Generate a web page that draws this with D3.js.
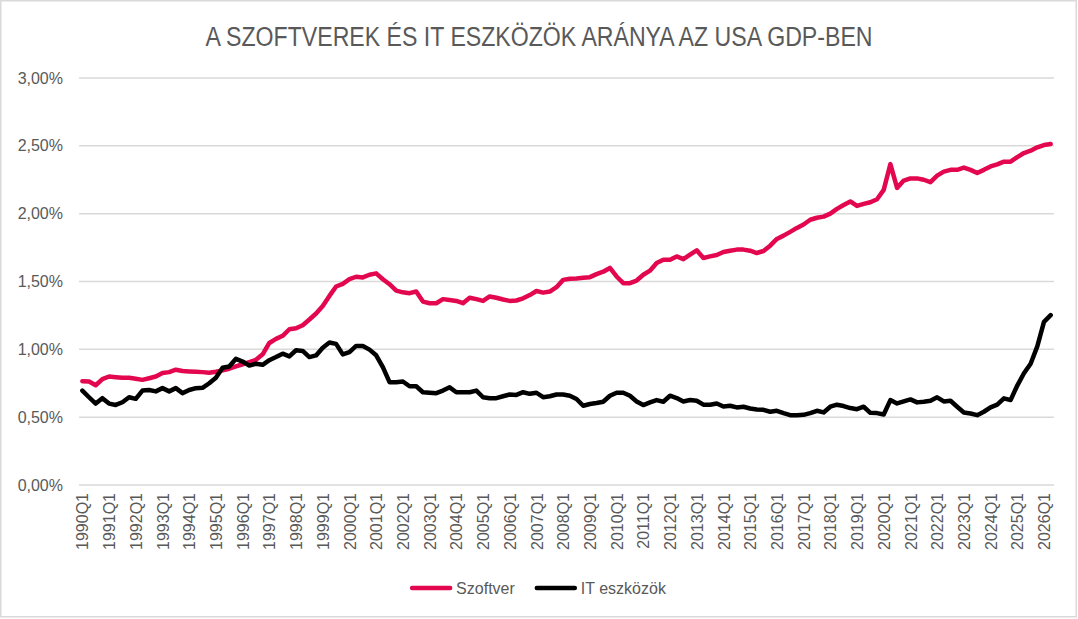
<!DOCTYPE html>
<html>
<head>
<meta charset="utf-8">
<script src="https://cdn.jsdelivr.net/npm/d3@7"></script>
<style>
  body { margin: 0; background: #fff; }
  text { font-family: "Liberation Sans", Arial, sans-serif; fill: #595959; }
</style>
</head>
<body>
<div id="chart"></div>
<script>
// quarters 1990Q1 .. 2026Q2
var firstYear = 1990;
var quarterCount = 146;

// share of GDP, percent
var szoftver = [
  0.765, 0.763, 0.735, 0.780,   // 1990
  0.800, 0.795, 0.790, 0.790,   // 1991
  0.783, 0.775, 0.787, 0.800,   // 1992
  0.825, 0.832, 0.850, 0.840,   // 1993
  0.837, 0.835, 0.832, 0.827,   // 1994
  0.835, 0.845, 0.857, 0.874,   // 1995
  0.890, 0.906, 0.923, 0.963,   // 1996
  1.047, 1.077, 1.100, 1.148,   // 1997
  1.155, 1.178, 1.220, 1.264,   // 1998
  1.320, 1.394, 1.463, 1.483,   // 1999
  1.517, 1.535, 1.530, 1.550,   // 2000
  1.560, 1.517, 1.480, 1.433,   // 2001
  1.420, 1.414, 1.426, 1.352,   // 2002
  1.340, 1.340, 1.370, 1.364,   // 2003
  1.357, 1.340, 1.380, 1.370,   // 2004
  1.357, 1.390, 1.380, 1.367,   // 2005
  1.357, 1.360, 1.376, 1.400,   // 2006
  1.430, 1.418, 1.426, 1.458,   // 2007
  1.512, 1.520, 1.522, 1.527,   // 2008
  1.532, 1.554, 1.572, 1.600,   // 2009
  1.537, 1.488, 1.488, 1.507,   // 2010
  1.550, 1.580, 1.636, 1.660,   // 2011
  1.660, 1.685, 1.665, 1.698,   // 2012
  1.730, 1.673, 1.685, 1.695,   // 2013
  1.717, 1.727, 1.735, 1.735,   // 2014
  1.727, 1.710, 1.725, 1.764,   // 2015
  1.814, 1.838, 1.866, 1.895,   // 2016
  1.920, 1.955, 1.970, 1.978,   // 2017
  2.000, 2.035, 2.064, 2.090,   // 2018
  2.057, 2.072, 2.084, 2.106,   // 2019
  2.175, 2.365, 2.190, 2.244,   // 2020
  2.260, 2.260, 2.250, 2.232,   // 2021
  2.280, 2.310, 2.323, 2.323,   // 2022
  2.340, 2.323, 2.300, 2.323,   // 2023
  2.348, 2.363, 2.383, 2.383,   // 2024
  2.417, 2.447, 2.464, 2.489,   // 2025
  2.506, 2.514                  // 2026
];

var itEszkozok = [
  0.696, 0.647, 0.600, 0.640,   // 1990
  0.600, 0.590, 0.610, 0.647,   // 1991
  0.635, 0.696, 0.700, 0.690,   // 1992
  0.714, 0.690, 0.714, 0.677,   // 1993
  0.700, 0.714, 0.716, 0.750,   // 1994
  0.790, 0.864, 0.874, 0.930,   // 1995
  0.910, 0.880, 0.894, 0.886,   // 1996
  0.920, 0.943, 0.968, 0.948,   // 1997
  0.993, 0.988, 0.943, 0.955,   // 1998
  1.012, 1.050, 1.040, 0.963,   // 1999
  0.980, 1.025, 1.025, 0.998,   // 2000
  0.956, 0.869, 0.758, 0.758,   // 2001
  0.763, 0.728, 0.728, 0.684,   // 2002
  0.680, 0.677, 0.696, 0.720,   // 2003
  0.684, 0.684, 0.684, 0.696,   // 2004
  0.647, 0.640, 0.640, 0.654,   // 2005
  0.667, 0.664, 0.684, 0.672,   // 2006
  0.680, 0.647, 0.654, 0.667,   // 2007
  0.667, 0.658, 0.634, 0.584,   // 2008
  0.597, 0.604, 0.614, 0.658,   // 2009
  0.680, 0.680, 0.658, 0.616,   // 2010
  0.589, 0.609, 0.626, 0.614,   // 2011
  0.658, 0.641, 0.616, 0.626,   // 2012
  0.621, 0.592, 0.592, 0.601,   // 2013
  0.579, 0.584, 0.572, 0.577,   // 2014
  0.564, 0.557, 0.554, 0.540,   // 2015
  0.547, 0.530, 0.515, 0.515,   // 2016
  0.517, 0.530, 0.547, 0.535,   // 2017
  0.577, 0.592, 0.582, 0.567,   // 2018
  0.559, 0.577, 0.532, 0.530,   // 2019
  0.520, 0.626, 0.601, 0.616,   // 2020
  0.631, 0.609, 0.614, 0.621,   // 2021
  0.646, 0.616, 0.621, 0.577,   // 2022
  0.535, 0.527, 0.515, 0.540,   // 2023
  0.572, 0.592, 0.639, 0.626,   // 2024
  0.733, 0.824, 0.894, 1.022,   // 2025
  1.203, 1.252                  // 2026
];

var yTicks = [0, 0.5, 1, 1.5, 2, 2.5, 3];

var seriesNames = ["Szoftver", "IT eszközök"];
var seriesColors = ["#e2074f", "#000000"];

var categories = [];
for (var i = 0; i < quarterCount; i++) {
    categories.push((firstYear + Math.floor(i / 4)) + "Q" + (i % 4 + 1));
}
// every fourth quarter gets a label
var xLabels = categories.filter(function (d, i) { return i % 4 === 0; });

var width = 1078, height = 619;
var plot = { left: 79, right: 1054, top: 78, bottom: 485 };

var svg = d3.select("#chart").append("svg")
        .attr("width", width)
        .attr("height", height);

svg.append("rect")
        .attr("x", 0.75).attr("y", 0.75)
        .attr("width", 1075.5).attr("height", 616)
        .attr("fill", "#fff")
        .attr("stroke", "#d9d9d9")
        .attr("stroke-width", 1.5);

var x = d3.scalePoint()
        .domain(categories)
        .range([plot.left, plot.right])
        .padding(0.5);

var y = d3.scaleLinear()
        .domain([0, 3])
        .range([plot.bottom, plot.top]);

var huFormat = d3.formatLocale({decimal: ",", thousands: " ", grouping: [3], currency: ["", ""]}).format(".2f");

// gridlines
svg.append("g").selectAll("line")
        .data(yTicks)
        .enter().append("line")
        .attr("x1", plot.left).attr("x2", plot.right)
        .attr("y1", function (d) { return y(d); })
        .attr("y2", function (d) { return y(d); })
        .attr("stroke", "#d9d9d9")
        .attr("stroke-width", 1.5);

// y axis labels
var yAxis = d3.axisLeft(y)
        .tickValues(yTicks)
        .tickSize(0)
        .tickPadding(16)
        .tickFormat(function (d) { return huFormat(d) + "%"; });
var gy = svg.append("g")
        .attr("transform", "translate(" + plot.left + ",0)")
        .call(yAxis);
gy.select(".domain").remove();
gy.selectAll("text")
        .style("font-size", "16px")
        .style("font-family", "'Liberation Sans', Arial, sans-serif")
        .attr("fill", "#595959");

// x axis labels
var xAxis = d3.axisBottom(x)
        .tickValues(xLabels)
        .tickSize(0);
var gx = svg.append("g")
        .attr("transform", "translate(0," + plot.bottom + ")")
        .call(xAxis);
gx.select(".domain").remove();
gx.selectAll("text")
        .attr("y", 0)
        .attr("x", -8)
        .attr("dy", "0.35em")
        .attr("transform", "rotate(-90)")
        .style("text-anchor", "end")
        .style("font-size", "16px")
        .style("font-family", "'Liberation Sans', Arial, sans-serif")
        .attr("fill", "#595959");

// lines
var line = d3.line()
        .x(function (d, i) { return x(categories[i]); })
        .y(function (d) { return y(d); });

[szoftver, itEszkozok].forEach(function (values, k) {
    svg.append("path")
            .datum(values)
            .attr("d", line)
            .attr("fill", "none")
            .attr("stroke", seriesColors[k])
            .attr("stroke-width", 4.5)
            .attr("stroke-linejoin", "round")
            .attr("stroke-linecap", "round");
});

// title: tall, condensed lettering squeezed to the original width
svg.append("text")
        .attr("x", width / 2)
        .attr("y", 46)
        .attr("text-anchor", "middle")
        .attr("textLength", 667)
        .attr("lengthAdjust", "spacingAndGlyphs")
        .style("font-family", "'Liberation Sans', Arial, sans-serif")
        .style("font-size", "27px")
        .text("A SZOFTVEREK ÉS IT ESZKÖZÖK ARÁNYA AZ USA GDP-BEN");

// legend
var legend = svg.append("g");
var swatch = 38, gap = 6, between = 22;
var items = seriesNames.map(function (name, k) {
    var g = legend.append("g");
    g.append("line")
            .attr("x1", 0).attr("x2", swatch)
            .attr("y1", 0).attr("y2", 0)
            .attr("stroke", seriesColors[k])
            .attr("stroke-width", 4.5)
            .attr("stroke-linecap", "round");
    var t = g.append("text")
            .attr("x", swatch + gap)
            .attr("dy", "0.35em")
            .style("font-size", "16px")
            .text(name);
    return {g: g, w: swatch + gap + t.node().getComputedTextLength()};
});
var total = d3.sum(items, function (d) { return d.w; }) + between * (items.length - 1);
var lx = width / 2 - total / 2;
items.forEach(function (it) {
    it.g.attr("transform", "translate(" + lx + ",588)");
    lx += it.w + between;
});
</script>
</body>
</html>
